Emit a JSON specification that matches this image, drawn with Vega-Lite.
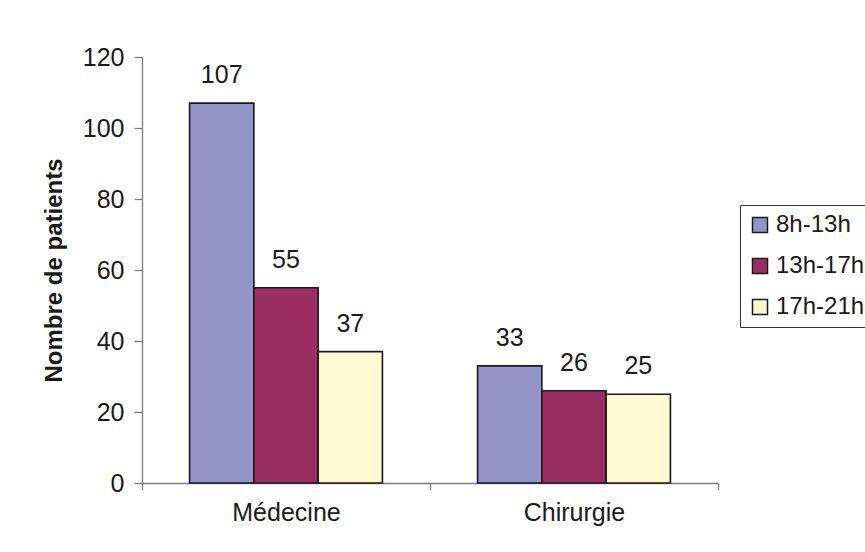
{
  "$schema": "https://vega.github.io/schema/vega-lite/v6.json",
  "autosize": "none",
  "width": 576,
  "height": 426,
  "padding": {"left": 142, "top": 57, "right": 147, "bottom": 69},
  "background": "white",
  "config": {
    "font": "Liberation Sans",
    "view": {"stroke": null},
    "axis": {"grid": false, "domainColor": "#7a7a7a", "tickColor": "#7a7a7a", "labelColor": "#1a1a1a", "titleColor": "#1a1a1a"}
  },
  "data": {
    "values": [
      {"service": "Médecine", "periode": "8h-13h", "patients": 107},
      {"service": "Médecine", "periode": "13h-17h", "patients": 55},
      {"service": "Médecine", "periode": "17h-21h", "patients": 37},
      {"service": "Chirurgie", "periode": "8h-13h", "patients": 33},
      {"service": "Chirurgie", "periode": "13h-17h", "patients": 26},
      {"service": "Chirurgie", "periode": "17h-21h", "patients": 25}
    ]
  },
  "encoding": {
    "x": {
      "field": "service", "type": "nominal", "sort": ["Médecine", "Chirurgie"],
      "scale": {"paddingInner": 0, "paddingOuter": 0},
      "axis": {"title": null, "labelAngle": 0, "labelFontSize": 25, "labelPadding": 10, "tickBand": "extent", "tickSize": 7, "domainWidth": 1.3, "tickWidth": 1.3}
    },
    "xOffset": {
      "field": "periode", "type": "nominal", "sort": ["8h-13h", "13h-17h", "17h-21h"],
      "scale": {"paddingInner": 0, "paddingOuter": 0.74}
    },
    "y": {
      "field": "patients", "type": "quantitative",
      "scale": {"domain": [0, 120]},
      "axis": {"values": [0, 20, 40, 60, 80, 100, 120], "title": "Nombre de patients", "titleFontSize": 24, "titleFontWeight": "bold", "titlePadding": 16, "labelFontSize": 25, "labelPadding": 10, "tickSize": 8, "domainWidth": 1.3, "tickWidth": 1.3}
    }
  },
  "layer": [
    {
      "mark": {"type": "bar", "stroke": "#1a1a1a", "strokeWidth": 1.6},
      "encoding": {
        "color": {
          "field": "periode", "type": "nominal", "sort": ["8h-13h", "13h-17h", "17h-21h"],
          "scale": {"domain": ["8h-13h", "13h-17h", "17h-21h"], "range": ["#9494c8", "#9b2f62", "#fcfad2"]},
          "legend": {
            "title": null, "orient": "none", "legendX": 598, "legendY": 148,
            "symbolType": "square", "symbolSize": 225, "symbolStrokeColor": "#1a1a1a", "symbolStrokeWidth": 1.5,
            "labelFontSize": 24, "labelColor": "#1a1a1a", "rowPadding": 17, "labelOffset": 4,
            "strokeColor": "#333", "fillColor": "white", "padding": 8
          }
        }
      }
    },
    {
      "mark": {"type": "text", "baseline": "alphabetic", "dy": -20, "fontSize": 25, "color": "#1a1a1a"},
      "encoding": {"text": {"field": "patients", "type": "quantitative"}}
    }
  ]
}
